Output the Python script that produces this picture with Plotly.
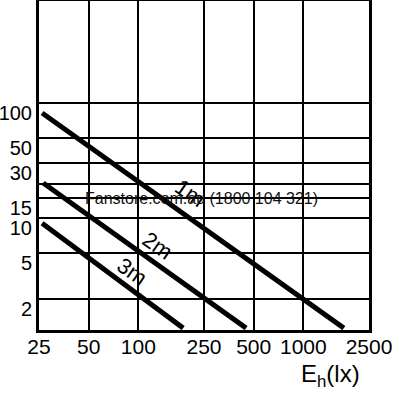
import numpy as np
import plotly.graph_objects as go

# Data
x_ticks = [25, 50, 100, 250, 500, 1000, 2500]
x_ticktext = ["25", "50", "100", "250", "500", "1000", "2500"]
y_ticks = [2, 5, 10, 15, 20, 30, 50, 100]
y_ticktext = ["2", "5", "10", "15", "", "30", "50", "100"]

line_names = ["1m", "2m", "3m"]
line_x = [[26.1, 1760], [26.5, 450], [26.1, 187]]
line_y = [[82, 1.12], [20.3, 1.12], [9.1, 1.12]]
label_x = [208, 130, 91.6]
label_y = [16.6, 5.77, 3.5]

FONT = "Liberation Sans, Arial, sans-serif"

fig = go.Figure()
for name, xs, ys in zip(line_names, line_x, line_y):
    fig.add_trace(go.Scatter(x=xs, y=ys, mode="lines", name=name,
                             line=dict(color="black", width=5),
                             showlegend=False, hoverinfo="skip"))

for name, lx, ly in zip(line_names, label_x, label_y):
    fig.add_annotation(x=np.log10(lx), y=np.log10(ly), text=name, showarrow=False,
                       textangle=35, font=dict(family=FONT, size=22, color="black"),
                       xref="x", yref="y")

fig.add_annotation(x=0.492, y=0.401, xref="paper", yref="paper", text="Fanstore.com.au (1800 104 321)",
                   showarrow=False, font=dict(family=FONT, size=16, color="#111"))

fig.add_annotation(x=0.979, y=-0.137, xref="paper", yref="paper", yanchor="middle",
                   text="E<sub>h</sub>(lx)",
                   showarrow=False, font=dict(family=FONT, size=24, color="black"))

fig.update_xaxes(type="log", range=[np.log10(25), np.log10(2500)],
                 tickvals=x_ticks, ticktext=x_ticktext, tickangle=0, automargin=False,
                 showgrid=True, gridcolor="black", gridwidth=2,
                 showline=True, linecolor="black", linewidth=3, mirror=True,
                 ticks="", zeroline=False, ticklabelstandoff=-4,
                 tickfont=dict(family=FONT, size=21, color="black"))
fig.update_yaxes(type="log", range=[0.033, 2.884],
                 tickvals=y_ticks, ticktext=y_ticktext, automargin=False,
                 showgrid=True, gridcolor="black", gridwidth=2,
                 showline=True, linecolor="black", linewidth=3, mirror=True,
                 ticks="", zeroline=False, ticklabelshift=10, ticklabelstandoff=0,
                 tickfont=dict(family=FONT, size=20, color="black"))

fig.update_layout(width=400, height=394, margin=dict(l=39, r=31, t=1, b=64),
                  plot_bgcolor="white", paper_bgcolor="white")

fig.write_html("out.html")
